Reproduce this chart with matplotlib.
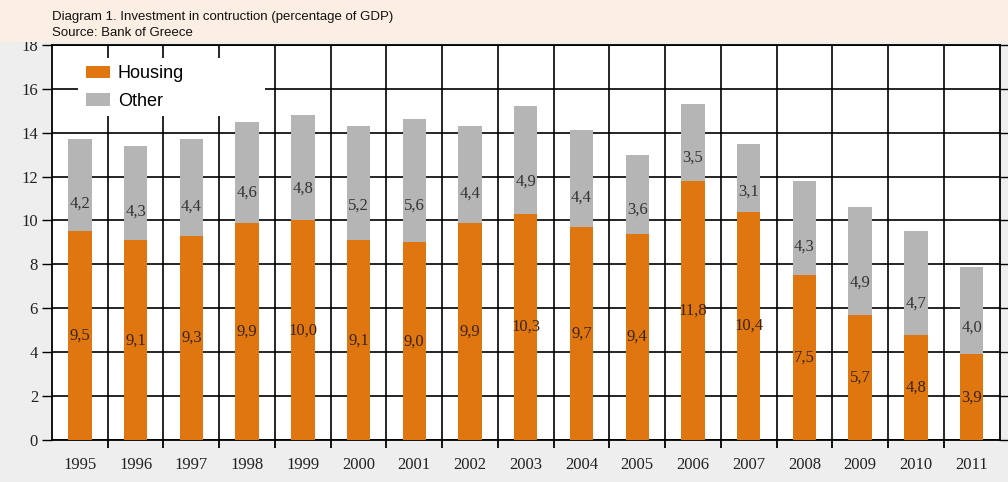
import matplotlib.pyplot as plt
import matplotlib.patches as mpatches
import numpy as np

years = ['1995', '1996', '1997', '1998', '1999', '2000', '2001', '2002', '2003',
         '2004', '2005', '2006', '2007', '2008', '2009', '2010', '2011']
housing = [9.5, 9.1, 9.3, 9.9, 10.0, 9.1, 9.0, 9.9, 10.3, 9.7, 9.4, 11.8, 10.4, 7.5, 5.7, 4.8, 3.9]
other = [4.2, 4.3, 4.4, 4.6, 4.8, 5.2, 5.6, 4.4, 4.9, 4.4, 3.6, 3.5, 3.1, 4.3, 4.9, 4.7, 4.0]

orange = '#e0760f'
grey = '#b5b5b5'
serif = 'Liberation Serif'

fig = plt.figure(figsize=(10.08, 4.82), dpi=100, facecolor='#eeeeee')
# peach header strip
fig.patches.append(mpatches.Rectangle((0, 0.913), 1, 0.087, transform=fig.transFigure,
                                      facecolor='#fbeee3', edgecolor='none', zorder=0))
fig.text(0.052, 0.965, 'Diagram 1. Investment in contruction (percentage of GDP)',
         fontsize=9.5, family='Liberation Sans', color='#111111', va='center')
fig.text(0.052, 0.932, 'Source: Bank of Greece',
         fontsize=9.5, family='Liberation Sans', color='#111111', va='center')

ax = fig.add_axes([0.0516, 0.087, 0.940, 0.820])
ax.set_facecolor('white')
x = np.arange(len(years))
h = np.array(housing)
o = np.array(other)
ax.bar(x, h, width=0.42, color=orange, zorder=3, label='Housing')
ax.bar(x, o, bottom=h, width=0.42, color=grey, zorder=3, label='Other')

for xi, hv, ov in zip(x, h, o):
    ax.text(xi, hv * 0.5, f'{hv:.1f}'.replace('.', ','), ha='center', va='center',
            fontsize=12, family=serif, color='#3a2410', zorder=4)
    ax.text(xi, hv + ov * 0.3, f'{ov:.1f}'.replace('.', ','), ha='center', va='center',
            fontsize=12, family=serif, color='#333333', zorder=4)

ax.set_xlim(-0.5, len(years) - 0.5)
ax.set_ylim(0, 18)
ax.set_yticks(np.arange(0, 19, 2))
ax.set_xticks(x)
ax.set_xticklabels(years)
ax.set_xticks(np.arange(0.5, len(years) - 0.5, 1), minor=True)
ax.tick_params(axis='x', which='major', length=0, pad=12)
ax.tick_params(axis='x', which='minor', length=6, width=1.3, direction='out', color='black')
ax.tick_params(axis='y', length=7, width=1.0, direction='out', pad=3)
ax.grid(True, axis='y', which='major', color='black', lw=1.2, zorder=1)
ax.grid(True, axis='x', which='minor', color='black', lw=1.2, zorder=1)
for lab in ax.get_xticklabels() + ax.get_yticklabels():
    lab.set_family(serif)
    lab.set_fontsize(12)
    lab.set_color('#222222')
for sp in ax.spines.values():
    sp.set_color('black')
    sp.set_linewidth(1.3)

ax2 = ax.twinx()
ax2.set_ylim(0, 18)
ax2.set_yticks(np.arange(0, 19, 2))
ax2.tick_params(axis='y', length=7, width=1.0, direction='out', pad=3)
for lab in ax2.get_yticklabels():
    lab.set_family(serif)
    lab.set_fontsize(12)
    lab.set_color('#222222')
for sp in ax2.spines.values():
    sp.set_visible(False)

# white panel behind the legend, hiding the grid there
ax.add_patch(mpatches.Rectangle((0.0274, 0.82), 0.197, 0.147, transform=ax.transAxes,
                                facecolor='white', edgecolor='none', zorder=2.5))
leg = ax.legend(loc='upper left', bbox_to_anchor=(0.036, 0.949), frameon=False,
                prop={'family': 'Liberation Sans', 'size': 13},
                handlelength=1.35, handleheight=0.65, handletextpad=0.4,
                labelspacing=0.6, borderpad=0, borderaxespad=0)
leg.set_zorder(5)

fig.savefig('out.png', dpi=100, facecolor=fig.get_facecolor())
